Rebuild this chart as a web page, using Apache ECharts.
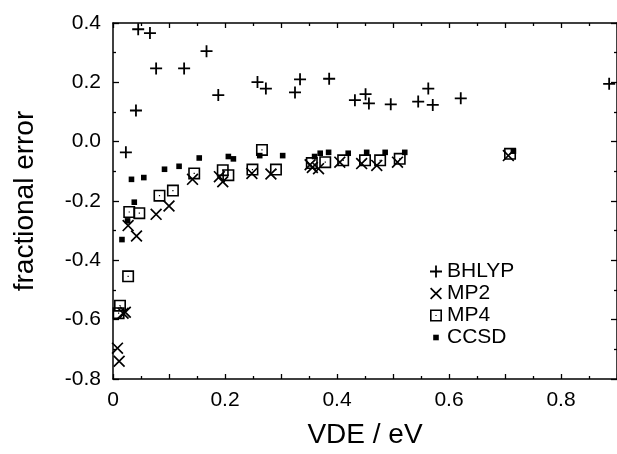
<!DOCTYPE html>
<html>
<head>
<meta charset="utf-8">
<script src="https://cdn.jsdelivr.net/npm/echarts@6/dist/echarts.min.js"></script>
<style>
  html, body { margin: 0; padding: 0; background: #fff; }
  #chart { width: 617px; height: 454px; }
</style>
</head>
<body>
<div id="chart"></div>
<script>
// [VDE (eV), fractional error]
const bhlyp = [
  [0.045, 0.379], [0.066, 0.366], [0.041, 0.105], [0.023, -0.036], [0.077, 0.247],
  [0.127, 0.247], [0.167, 0.305], [0.188, 0.157], [0.258, 0.201], [0.273, 0.179],
  [0.325, 0.166], [0.334, 0.21], [0.386, 0.212], [0.432, 0.14], [0.451, 0.16],
  [0.457, 0.129], [0.496, 0.126], [0.545, 0.135], [0.563, 0.179], [0.571, 0.124],
  [0.621, 0.146], [0.886, 0.195]
]
const mp2 = [
  [0.008, -0.696], [0.011, -0.74], [0.018, -0.578], [0.022, -0.575], [0.027, -0.283],
  [0.042, -0.318], [0.077, -0.245], [0.1, -0.217], [0.142, -0.127], [0.19, -0.118],
  [0.196, -0.135], [0.248, -0.107], [0.282, -0.109], [0.352, -0.078], [0.356, -0.087],
  [0.367, -0.091], [0.405, -0.069], [0.444, -0.074], [0.471, -0.08], [0.508, -0.069],
  [0.706, -0.047]
]
const mp4 = [
  [0.0125, -0.553], [0.01, -0.578], [0.027, -0.454], [0.029, -0.237], [0.047, -0.241],
  [0.083, -0.182], [0.107, -0.165], [0.145, -0.107], [0.196, -0.096], [0.206, -0.113],
  [0.249, -0.094], [0.266, -0.028], [0.291, -0.094], [0.355, -0.072], [0.379, -0.069],
  [0.411, -0.063], [0.45, -0.063], [0.477, -0.063], [0.512, -0.058], [0.709, -0.041]
]
const ccsd = [
  [0.016, -0.33], [0.026, -0.267], [0.038, -0.204], [0.033, -0.127], [0.055, -0.121],
  [0.092, -0.093], [0.118, -0.083], [0.154, -0.055], [0.206, -0.05], [0.215, -0.058],
  [0.262, -0.047], [0.303, -0.047], [0.36, -0.05], [0.37, -0.039], [0.385, -0.036],
  [0.42, -0.039], [0.453, -0.036], [0.486, -0.036], [0.521, -0.036], [0.715, -0.032]
]
const seriesNames = ['BHLYP', 'MP2', 'MP4', 'CCSD']

const font = 'Liberation Sans, Arial, Helvetica, sans-serif'

// marker shapes, all filled paths on a 12x12 box
const plusPath = 'path://M5.1 0L6.9 0L6.9 5.1L12 5.1L12 6.9L6.9 6.9L6.9 12L5.1 12L5.1 6.9L0 6.9L0 5.1L5.1 5.1Z'
const crossPath = 'path://M0 1.2L1.2 0L12 10.8L10.8 12ZM10.8 0L12 1.2L1.2 12L0 10.8Z'
const squarePath = 'path://M0 0L12 0L12 12L0 12ZM1.6 1.6L1.6 10.4L10.4 10.4L10.4 1.6ZM5.4 5.4L6.6 5.4L6.6 6.6L5.4 6.6Z'
const blockPath = 'path://M0 0M12 12M3.2 3.2L8.8 3.2L8.8 8.8L3.2 8.8Z'

const chart = echarts.init(document.getElementById('chart'))

const axisLine = { show: true, onZero: false, lineStyle: { color: '#000', width: 1.5 } }

function xAxis(pos, showLabel) {
  return {
    type: 'value',
    position: pos,
    min: 0,
    max: 0.9,
    interval: 0.1,
    name: showLabel ? 'VDE / eV' : '',
    nameLocation: 'middle',
    nameGap: 42,
    nameTextStyle: { fontSize: 28, color: '#000', fontFamily: font },
    axisLine: axisLine,
    axisTick: { show: true, inside: true, length: 5, lineStyle: { color: '#000', width: 1.3 } },
    minorTick: { show: true, splitNumber: 2, length: 3, lineStyle: { color: '#000', width: 1.3 } },
    axisLabel: {
      show: showLabel,
      margin: 11,
      fontSize: 21,
      color: '#000',
      fontFamily: font,
      showMaxLabel: false,
      formatter: function (v) {
        const k = Math.round(v * 10)
        if (k % 2) return ''
        return k === 0 ? '0' : v.toFixed(1)
      }
    },
    splitLine: { show: false },
    minorSplitLine: { show: false }
  }
}

function yAxis(pos, showLabel) {
  return {
    type: 'value',
    position: pos,
    min: -0.8,
    max: 0.4,
    interval: 0.2,
    name: showLabel ? 'fractional error' : '',
    nameLocation: 'middle',
    nameGap: 74,
    nameTextStyle: { fontSize: 28, color: '#000', fontFamily: font },
    axisLine: axisLine,
    axisTick: { show: true, inside: true, length: 6, lineStyle: { color: '#000', width: 1.3 } },
    minorTick: { show: true, splitNumber: 2, length: 3, lineStyle: { color: '#000', width: 1.3 } },
    axisLabel: {
      show: showLabel,
      margin: 12,
      fontSize: 21,
      color: '#000',
      fontFamily: font,
      formatter: function (v) { return v.toFixed(1) }
    },
    splitLine: { show: false },
    minorSplitLine: { show: false }
  }
}

function scatter(name, data, symbol) {
  return {
    name: name,
    type: 'scatter',
    data: data,
    symbol: symbol,
    symbolSize: 12,
    symbolKeepAspect: true,
    itemStyle: { color: '#000', opacity: 1 },
    emphasis: { disabled: true }
  }
}

chart.setOption({
  animation: false,
  backgroundColor: '#fff',
  grid: { left: 113, right: -1, top: 23, bottom: 67, containLabel: false },
  xAxis: [xAxis('bottom', true), xAxis('top', false)],
  yAxis: [yAxis('left', true), yAxis('right', false)],
  legend: {
    orient: 'vertical',
    left: 425,
    top: 256,
    itemWidth: 12,
    itemHeight: 12,
    itemGap: 1,
    selectedMode: false,
    textStyle: { fontSize: 21, color: '#000', fontFamily: font },
    data: seriesNames
  },
  series: [
    scatter(seriesNames[0], bhlyp, plusPath),
    scatter(seriesNames[1], mp2, crossPath),
    scatter(seriesNames[2], mp4, squarePath),
    scatter(seriesNames[3], ccsd, blockPath)
  ]
})
</script>
</body>
</html>
